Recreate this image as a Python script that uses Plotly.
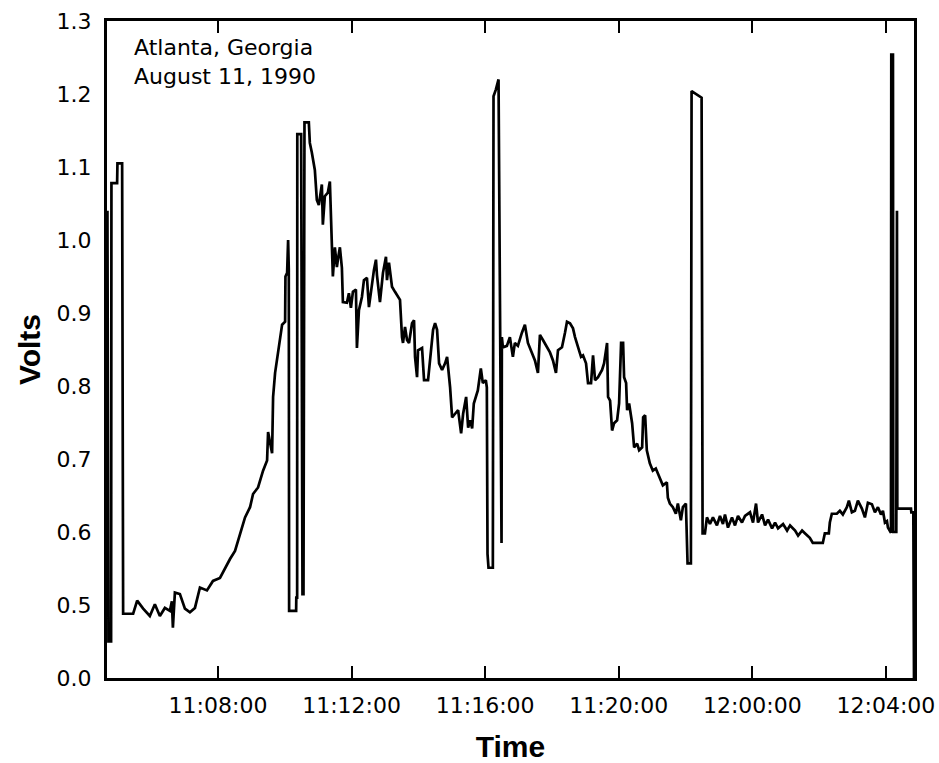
import plotly.graph_objects as go

# Time in minutes (axis position; labels below), voltage in volts.
time_min = [
    4.69, 4.72, 4.80, 4.81, 4.98, 4.99, 5.13, 5.16, 5.46, 5.58, 5.76, 5.96, 6.11, 6.26, 6.41, 6.56,
    6.62, 6.65, 6.71, 6.86, 7.01, 7.16, 7.31, 7.46, 7.67, 7.85, 8.06, 8.21, 8.36, 8.51, 8.66, 8.81,
    8.96, 9.05, 9.20, 9.35, 9.47, 9.50, 9.62, 9.65, 9.71, 9.80, 9.92, 10.01, 10.02, 10.07, 10.10,
    10.12, 10.13, 10.34, 10.345, 10.37, 10.375, 10.49, 10.53, 10.56, 10.59, 10.72,
    10.75, 10.81, 10.90, 10.96, 11.02, 11.11, 11.14, 11.20, 11.29, 11.35, 11.41, 11.44, 11.50, 11.56,
    11.59, 11.65, 11.71, 11.74, 11.86, 11.92, 11.98, 12.04, 12.13, 12.16, 12.22, 12.31, 12.37, 12.46,
    12.52, 12.61, 12.67, 12.73, 12.76, 12.85, 12.94, 13.03, 13.06, 13.12, 13.21, 13.30, 13.39, 13.45,
    13.51, 13.54, 13.60, 13.66, 13.72, 13.81, 13.87, 13.90, 13.96, 13.99, 14.11, 14.17, 14.29, 14.35,
    14.44, 14.50, 14.56, 14.62, 14.71, 14.80, 14.86, 14.95, 15.01, 15.10, 15.19, 15.28, 15.34, 15.43,
    15.49, 15.55, 15.61, 15.66, 15.75, 15.78, 15.87, 15.93, 16.02, 16.05, 16.07, 16.10, 16.23, 16.25,
    16.32, 16.38, 16.40, 16.49, 16.50,
    16.53, 16.65, 16.74, 16.83, 16.89, 16.98, 17.10, 17.19, 17.28, 17.40, 17.49, 17.58, 17.64, 17.73,
    17.85, 17.94, 18.03, 18.12, 18.18, 18.30, 18.39, 18.45, 18.54, 18.63, 18.69, 18.78, 18.87, 18.93,
    19.02, 19.08, 19.17, 19.23, 19.29, 19.38, 19.50, 19.56, 19.65, 19.68, 19.74, 19.80, 19.86, 19.95,
    20.01, 20.07, 20.13, 20.16, 20.22, 20.25, 20.31, 20.40, 20.46, 20.55, 20.61, 20.70, 20.73, 20.79,
    20.84, 20.93, 21.02, 21.11, 21.17, 21.26, 21.32, 21.44, 21.47, 21.53, 21.62, 21.71, 21.77, 21.86,
    21.92, 22.01, 22.04, 22.06, 22.16, 22.18, 22.48, 22.51,
    22.58, 22.64, 22.73, 22.82, 22.94, 23.03, 23.12, 23.18, 23.27, 23.39, 23.48, 23.57, 23.69, 23.78,
    23.93, 24.02, 24.11, 24.17, 24.29, 24.38, 24.47, 24.59, 24.68, 24.77, 24.92, 25.04, 25.13, 25.28,
    25.37, 25.49, 25.58, 25.72, 25.81, 26.11, 26.17, 26.29, 26.32, 26.38, 26.53, 26.62, 26.71, 26.83,
    26.89, 26.98, 27.07, 27.16, 27.28, 27.37, 27.46, 27.58, 27.67, 27.76, 27.85, 27.91, 27.97, 28.03,
    28.06, 28.15, 28.16, 28.21, 28.22, 28.31, 28.33, 28.34, 28.75, 28.76, 28.82, 28.84,
]
volts = [
    1.04, 0.45, 0.45, 1.078, 1.078, 1.105, 1.105, 0.488, 0.488, 0.506, 0.495, 0.485, 0.501, 0.485, 0.496, 0.492,
    0.505, 0.469, 0.517, 0.515, 0.495, 0.49, 0.496, 0.524, 0.52, 0.533, 0.537, 0.551, 0.563, 0.574, 0.598, 0.62,
    0.634, 0.652, 0.661, 0.684, 0.698, 0.737, 0.708, 0.785, 0.818, 0.845, 0.884, 0.888, 0.95, 0.955, 1.0,
    0.96, 0.492, 0.492, 0.51, 0.51, 1.145, 1.145, 0.515, 0.515, 1.161, 1.161,
    1.133, 1.12, 1.096, 1.055, 1.048, 1.076, 1.021, 1.06, 1.065, 1.08, 0.99, 0.95, 0.99, 0.963,
    0.973, 0.99, 0.962, 0.915, 0.914, 0.927, 0.907, 0.929, 0.932, 0.852, 0.904, 0.922, 0.945, 0.948,
    0.908, 0.941, 0.959, 0.973, 0.952, 0.915, 0.955, 0.977, 0.945, 0.969, 0.936, 0.929, 0.922, 0.918,
    0.867, 0.859, 0.881, 0.863, 0.859, 0.886, 0.89, 0.84, 0.812, 0.849, 0.852, 0.808, 0.808, 0.835,
    0.877, 0.886, 0.877, 0.831, 0.822, 0.831, 0.84, 0.798, 0.757, 0.762, 0.767, 0.735, 0.762, 0.785,
    0.743, 0.753, 0.742, 0.776, 0.79, 0.794, 0.824, 0.804, 0.808, 0.798, 0.57, 0.551, 0.551, 1.197,
    1.206, 1.22, 1.22, 0.585, 0.867,
    0.853, 0.855, 0.867, 0.84, 0.859, 0.855, 0.873, 0.884, 0.859, 0.845, 0.835, 0.818, 0.87, 0.863,
    0.853, 0.846, 0.835, 0.818, 0.849, 0.853, 0.873, 0.888, 0.886, 0.879, 0.867, 0.853, 0.84, 0.842,
    0.831, 0.804, 0.804, 0.842, 0.808, 0.812, 0.822, 0.831, 0.859, 0.785, 0.78, 0.739, 0.749, 0.753,
    0.776, 0.859, 0.859, 0.812, 0.804, 0.767, 0.776, 0.749, 0.716, 0.721, 0.712, 0.716, 0.757, 0.76,
    0.712, 0.694, 0.684, 0.687, 0.68, 0.671, 0.664, 0.668, 0.647, 0.639, 0.634, 0.625, 0.639, 0.616,
    0.634, 0.639, 0.584, 0.557, 0.557, 1.204, 1.195, 0.598,
    0.598, 0.62, 0.611, 0.62, 0.609, 0.622, 0.611, 0.624, 0.606, 0.62, 0.609, 0.622, 0.613, 0.622,
    0.627, 0.613, 0.639, 0.613, 0.624, 0.609, 0.617, 0.605, 0.613, 0.605, 0.611, 0.602, 0.609, 0.602,
    0.595, 0.602, 0.598, 0.592, 0.585, 0.585, 0.598, 0.598, 0.613, 0.625, 0.625, 0.629, 0.624, 0.634,
    0.643, 0.627, 0.629, 0.643, 0.632, 0.62, 0.64, 0.638, 0.627, 0.634, 0.624, 0.629, 0.613, 0.615,
    0.606, 0.599, 1.254, 1.254, 0.6, 0.6, 1.04, 0.632, 0.632, 0.627, 0.627, 0.4,
]

x_tick_pos = [8, 12, 16, 20, 24, 28]
x_tick_labels = ["11:08:00", "11:12:00", "11:16:00", "11:20:00", "12:00:00", "12:04:00"]
y_tick_pos = [0.4, 0.5, 0.6, 0.7, 0.8, 0.9, 1.0, 1.1, 1.2, 1.3]
y_tick_labels = ["0.0", "0.5", "0.6", "0.7", "0.8", "0.9", "1.0", "1.1", "1.2", "1.3"]

FONT = "DejaVu Sans, Liberation Sans, Arial, sans-serif"
TITLE_FONT = "Liberation Sans, Arial, Helvetica, sans-serif"

fig = go.Figure()
fig.add_trace(go.Scatter(
    x=time_min, y=volts, mode="lines",
    line=dict(color="black", width=2.7),
    showlegend=False, hoverinfo="skip",
))

fig.update_layout(
    width=939, height=763,
    margin=dict(l=107, r=25, t=21, b=85),
    paper_bgcolor="white", plot_bgcolor="white",
    font=dict(family=FONT, color="black", size=22),
    annotations=[dict(
        text="Atlanta, Georgia<br>August 11, 1990",
        xref="paper", yref="paper", x=0.031, y=0.981,
        xanchor="left", yanchor="top", align="left", showarrow=False,
        font=dict(family=FONT, size=22, color="black"),
    )],
)
fig.update_xaxes(
    range=[4.677, 28.84], tickmode="array", tickvals=x_tick_pos, ticktext=x_tick_labels,
    ticks="inside", ticklen=12, tickwidth=2, tickcolor="black",
    showline=True, linecolor="black", linewidth=3, mirror="ticks",
    showgrid=False, zeroline=False, tickfont=dict(size=22), ticklabelstandoff=6,
    automargin=False,
    title=dict(text="<b>Time</b>", font=dict(family=TITLE_FONT, size=30), standoff=22),
)
fig.update_yaxes(
    range=[0.4, 1.3], tickmode="array", tickvals=y_tick_pos, ticktext=y_tick_labels,
    ticks="", showline=True, linecolor="black", linewidth=3, mirror=True,
    showgrid=False, zeroline=False, tickfont=dict(size=22), ticklabelstandoff=8,
    automargin=False,
    title=dict(text="<b>Volts</b>", font=dict(family=TITLE_FONT, size=30), standoff=8),
)

fig.write_html("out.html")
